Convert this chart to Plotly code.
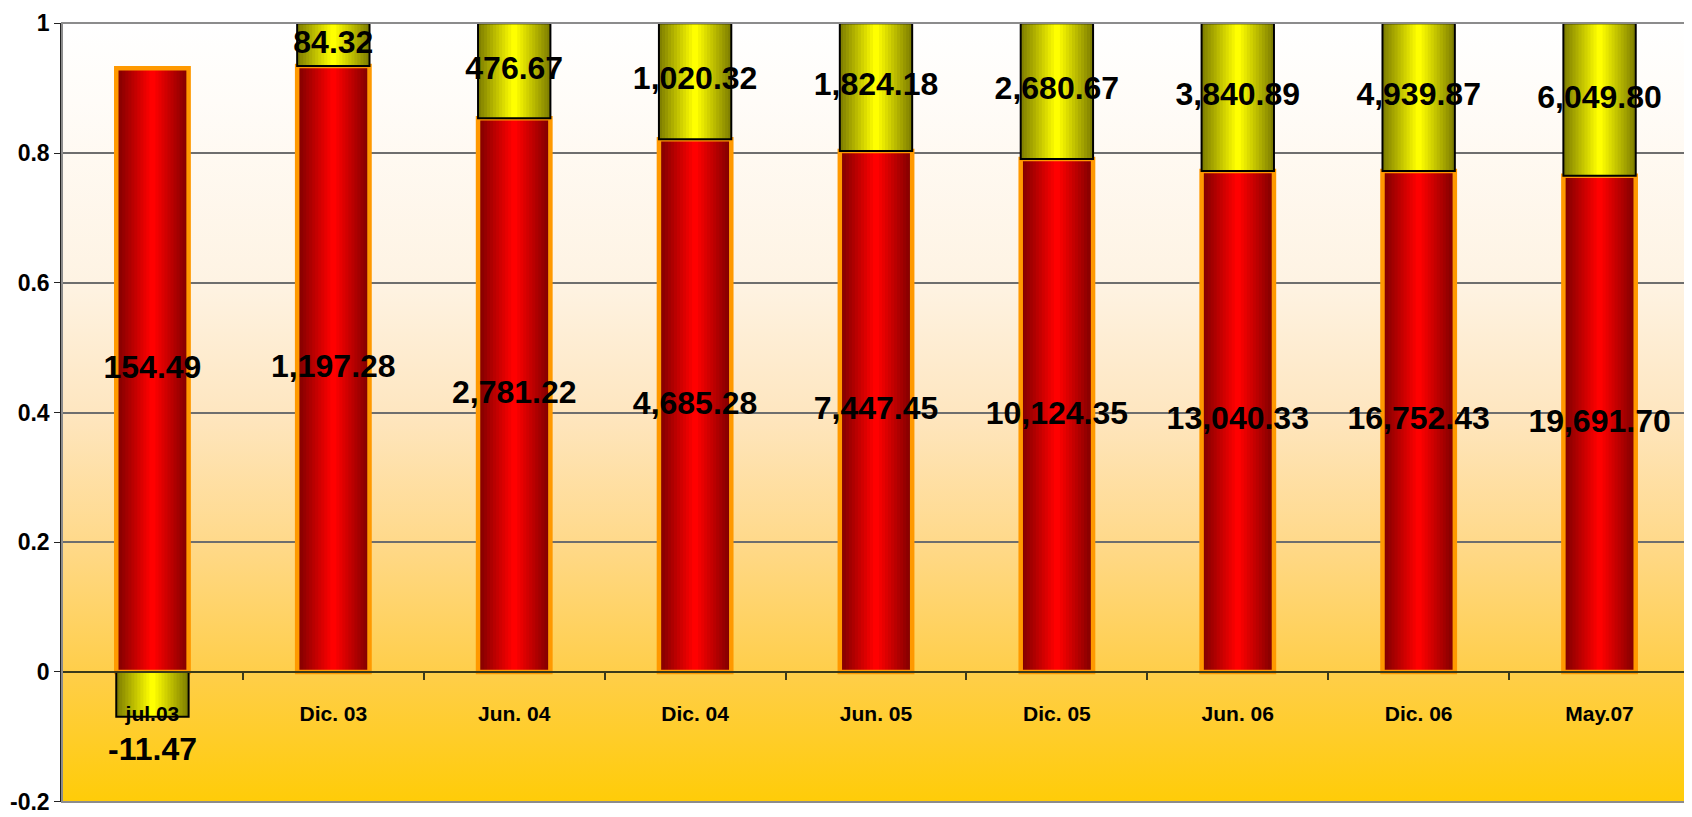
import base64
import plotly.graph_objects as go

categories = ["jul.03", "Dic. 03", "Jun. 04", "Dic. 04", "Jun. 05", "Dic. 05", "Jun. 06", "Dic. 06", "May.07"]
red_values = [154.49, 1197.28, 2781.22, 4685.28, 7447.45, 10124.35, 13040.33, 16752.43, 19691.70]
yellow_values = [-11.47, 84.32, 476.67, 1020.32, 1824.18, 2680.67, 3840.89, 4939.87, 6049.80]
y_tick_vals = [-0.2, 0, 0.2, 0.4, 0.6, 0.8, 1]
y_tick_text = ["-0.2", "0", "0.2", "0.4", "0.6", "0.8", "1"]

FONT = "Liberation Sans Narrow, Arial Narrow, Liberation Sans, Arial, sans-serif"

# 100% stacked fractions (Excel normalises by the sum of absolute values)
totals = [abs(r) + abs(y) for r, y in zip(red_values, yellow_values)]
red_frac = [r / t for r, t in zip(red_values, totals)]
yel_frac = [y / t for y, t in zip(yellow_values, totals)]
yel_base = [rf if y >= 0 else 0 for rf, y in zip(red_frac, yellow_values)]


def lerp(c1, c2, t):
    return "rgb(%d,%d,%d)" % tuple(round(a + (b - a) * t) for a, b in zip(c1, c2))


fig = go.Figure()
BAR_W = 0.4
N = 12


def cylinder(y, base, dark, bright, line_color, line_w):
    for k in range(N):
        w = BAR_W * (1 - k / N)
        fig.add_trace(go.Bar(
            x=categories, y=y, base=base, width=w,
            marker=dict(color=lerp(dark, bright, k / (N - 1)), line=dict(width=0)),
            showlegend=False, hoverinfo="skip"))
    fig.add_trace(go.Bar(
        x=categories, y=y, base=base, width=BAR_W,
        marker=dict(color="rgba(0,0,0,0)", line=dict(color=line_color, width=line_w)),
        showlegend=False, hoverinfo="skip"))


cylinder(red_frac, [0] * len(categories), (128, 0, 0), (255, 0, 0), "#FF9900", 4.5)
cylinder(yel_frac, yel_base, (128, 128, 0), (255, 255, 0), "#000000", 2)

LABEL_FONT = dict(family=FONT, size=32, color="black", weight="bold")

# data labels
fig.add_trace(go.Scatter(
    x=categories, y=[f / 2 for f in red_frac], mode="text",
    text=[f"{v:,.2f}" for v in red_values], textposition="middle center",
    textfont=LABEL_FONT, showlegend=False, hoverinfo="skip"))
pos_idx = [i for i, v in enumerate(yellow_values) if v >= 0]
fig.add_trace(go.Scatter(
    x=[categories[i] for i in pos_idx],
    y=[yel_base[i] + yel_frac[i] / 2 for i in pos_idx],
    mode="text",
    text=[f"{yellow_values[i]:,.2f}" for i in pos_idx],
    textposition="middle center",
    textfont=LABEL_FONT, showlegend=False, hoverinfo="skip"))
annotations = []
for i, v in enumerate(yellow_values):
    if v < 0:
        annotations.append(dict(x=categories[i], y=yel_frac[i], xref="x", yref="y",
                                text=f"{v:,.2f}", showarrow=False, yanchor="middle",
                                yshift=-32, font=LABEL_FONT))

# gradient background for plot area
stops = [(0.0, "#FFFFFF"), (0.1, "#FFFCF8"), (0.333, "#FEF3E3"), (0.5, "#FEE6C0"),
         (0.667, "#FFD98A"), (0.833, "#FFCE4A"), (1.0, "#FFCC08")]
stop_xml = "".join(f'<stop offset="{o}" stop-color="{c}"/>' for o, c in stops)
svg = ('<svg xmlns="http://www.w3.org/2000/svg" width="100" height="100" viewBox="0 0 100 100" '
       'preserveAspectRatio="none"><defs><linearGradient id="g" x1="0" y1="0" x2="0" y2="1">'
       + stop_xml + '</linearGradient></defs><rect width="100" height="100" fill="url(#g)"/></svg>')
src = "data:image/svg+xml;base64," + base64.b64encode(svg.encode()).decode()

fig.update_layout(
    width=1684, height=809,
    margin=dict(l=52, r=2, t=12, b=14),
    barmode="overlay",
    paper_bgcolor="white",
    plot_bgcolor="rgba(0,0,0,0)",
    images=[dict(source=src, xref="paper", yref="paper", x=0, y=1, sizex=1, sizey=1,
                 sizing="stretch", layer="below", xanchor="left", yanchor="top")],
    shapes=[dict(type="rect", xref="paper", yref="paper", x0=0, x1=1, y0=0, y1=1,
                 line=dict(color="#8C8C8C", width=2), fillcolor="rgba(0,0,0,0)", layer="above")],
    annotations=annotations,
    font=dict(family=FONT, color="black"),
)
fig.update_xaxes(
    type="category", anchor="free", position=(0 - (-0.2)) / 1.2,
    showline=True, linecolor="#3A3A1A", linewidth=1.5,
    ticks="outside", ticklen=7, tickcolor="#3A3A1A", tickwidth=1.5, tickson="boundaries",
    ticklabelstandoff=23,
    tickfont=dict(family=FONT, size=21, color="black", weight="bold"),
    showgrid=False, zeroline=False,
)
fig.update_yaxes(
    range=[-0.2005, 1.0005], tickvals=y_tick_vals, ticktext=y_tick_text,
    showline=True, linecolor="#222222", linewidth=1.5,
    ticks="outside", ticklen=6, tickcolor="#222222",
    ticklabeloverflow="allow",
    tickfont=dict(family=FONT, size=23, color="black", weight="bold"),
    showgrid=True, gridcolor="#6E6E6E", gridwidth=1.5, zeroline=False,
)

fig.write_html("out.html")
